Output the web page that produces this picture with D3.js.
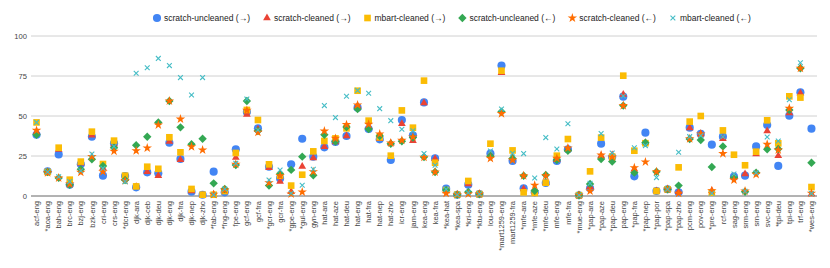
<!DOCTYPE html>
<html><head><meta charset="utf-8">
<script src="https://cdn.jsdelivr.net/npm/d3@7"></script>
<style>
html,body{margin:0;padding:0;background:#fff;}
svg{display:block;font-family:Arial,"Liberation Sans",sans-serif;}
</style></head>
<body>
<svg id="chart" width="830" height="268"></svg>
<script>
const categories = ["acf-eng","*aoa-eng","bah-eng","brc-eng","bzj-eng","bzk-eng","cri-eng","crs-eng","*dcr-eng","djk-ara",
"djk-ceb","djk-deu","djk-eng","djk-fra","djk-nep","djk-zho","*fab-eng","*fng-eng","fpe-eng","gcf-eng",
"gcf-fra","*gcr-eng","gcr-fra","*gpe-eng","*gul-eng","gyn-eng","hat-ara","hat-aze","hat-deu","hat-eng",
"hat-fra","hat-nep","hat-zho","icr-eng","jam-eng","kea-eng","kea-fra","*kea-hat","*kea-spa","*kri-eng",
"*ktu-eng","lou-eng","*mart1259-eng","mart1259-fra","*mfe-ara","*mfe-aze","*mfe-deu","mfe-eng","mfe-fra","*mue-eng",
"*pap-ara","*pap-aze","*pap-deu","pap-eng","*pap-fra","*pap-nep","*pap-por","*pap-spa","*pap-zho","pcm-eng",
"pov-eng","*pre-eng","rcf-eng","sag-eng","srm-eng","srn-eng","svc-eng","*tpi-deu","tpi-eng","trf-eng",
"*wes-eng"];

const scratchUncleanedFwd = [38.3,15.5,26,7,19.8,37,12.7,33,12.5,5.4,
14.8,14.2,33.3,23.1,2.7,0.8,15.2,2.3,29.2,52.5,
42.3,18.3,11,19.8,35.8,24.6,30.4,33.8,37.5,55.2,
41.9,35.4,22.5,47.5,37.9,58.5,23.5,4.6,0.8,7.1,
1.2,26.5,81.5,21.9,4.8,2.3,8.1,21.9,29.2,0.5,
4.8,32.7,24.4,62.1,12.3,39.6,3.1,4.2,2.3,42.7,
38.8,32.1,37.1,12.1,12.7,31,44.4,18.8,50.2,64.8,
42.1];
const scratchCleanedFwd = [40,15,29,7.5,20.4,38,17.5,32.3,11,5.8,
15.2,12.7,34,22.7,3.1,0.4,1,3.7,24,51,
41.7,17.7,9,2.7,18.5,23.8,30.8,33.8,37.5,56.3,
43.3,35.8,33,45.2,34.6,58.1,23.3,3.1,0.8,7.5,
1.2,26,77.1,23.8,4.4,2.8,8.3,22.7,29.6,0.5,
5.8,25.2,25.6,63.5,16.7,33.3,3.1,4.2,2.7,42.5,
38.8,3.3,35.8,12.1,13.8,26.3,40.6,25.2,51.9,64.2,
1.2];
const mbartCleanedFwd = [46,15,30.2,10.2,21.5,40.2,20,34.6,12.7,6,
18.3,17,36.7,27.3,4.4,0.8,0.8,3.1,26.9,53.8,
47.5,19.8,12.7,6.5,13.3,27.9,34.4,36,42.3,65.8,
47.1,36.7,25.2,53.5,42.7,72.1,20.8,3.7,0.8,9.4,
1.2,32.7,78.3,28.5,2.3,1.9,8.3,25.2,35.6,0.5,
15.4,36.5,24.6,75.2,28.3,33,3.1,4.2,17.9,46.5,
50,2.1,41,25.8,19.2,27.7,47.3,32.9,62.3,61.5,
5.6];
const scratchUncleanedBwd = [38.3,15,11.3,7,16.7,23,18.8,30.2,10,31.7,
37,46,59.4,42.9,32.3,35.8,7.9,4.4,19.4,59.4,
40.6,6.5,13.8,16.3,24.6,12.9,38.3,34,43.1,54.4,
41.9,37.5,32.7,34.2,36.5,24.4,15,3.7,0.8,2.5,
1.2,24.8,52.7,23.5,12.7,3.3,13.1,22.5,28.3,0.5,
7.5,23.1,21.5,56.5,14.6,33.3,15.2,4.2,6.5,35.6,
35,18.1,31,11.7,2.7,14.6,29.2,29.4,53.8,79.8,
20.8];
const scratchCleanedBwd = [41,14.5,11.3,7.5,14.8,24.6,15.2,28,9.6,28.3,
30,44.4,59.4,48.1,30.8,28.8,1,3.7,19.8,53.5,
39.8,8.3,12.7,1.3,2.5,15.2,40.6,36,44.6,56.9,
44.8,38.8,33.1,34.8,36.9,24.2,15,1.7,0.8,1.3,
1.2,23.5,51.5,22.5,12.7,6.7,12.7,23.5,30,0.5,
3.1,25.6,24.4,56.5,17.7,21.3,15.2,4.2,1.7,35.8,
38.8,3.3,26.5,10,3.1,13.5,32.3,28.8,54.8,79.8,
1.7];
const mbartCleanedBwd = [46,15,12,9,15.8,26.2,17.3,31,9,76.7,
80.2,86,81.5,74,63.1,74,0.8,4.4,20.4,60.6,
41.3,10,16.3,1.7,6.7,16.7,56.5,49,62.3,66,
64.2,54.6,47.1,41.7,40.8,26.5,19.2,4.2,0.8,2.1,
1.2,28.1,54.4,26.7,26.5,11.3,36.5,29.4,45.2,0.5,
7.9,39,26.9,62.5,30.2,31.5,11.5,4.2,27.3,37.1,
37.7,1.7,37,13.8,3,14.6,36.9,34.4,60.2,83.3,
1.5];

const seriesNames = ["scratch-uncleaned (\u2192)","scratch-cleaned (\u2192)","mbart-cleaned (\u2192)",
  "scratch-uncleaned (\u2190)","scratch-cleaned (\u2190)","mbart-cleaned (\u2190)"];
const yTicks = [0,25,50,75,100];

(function(){
const seriesValues = [scratchUncleanedFwd, scratchCleanedFwd, mbartCleanedFwd,
  scratchUncleanedBwd, scratchCleanedBwd, mbartCleanedBwd];
const colors = ["#4285F4","#EA4335","#FBBC04","#34A853","#FF6D01","#46BDC6"];

const svg = d3.select("#chart");
const mLeft = 31, mRight = 817, mTop = 36, mBottom = 196;

const x = d3.scalePoint().domain(categories).range([mLeft, mRight]).padding(0.5);
const y = d3.scaleLinear().domain([0,100]).range([mBottom, mTop]);

svg.append("g").selectAll("line").data(yTicks.filter(d=>d>0)).join("line")
  .attr("x1", mLeft).attr("x2", mRight)
  .attr("y1", d=>y(d)).attr("y2", d=>y(d))
  .attr("stroke", "#d0d0d0").attr("stroke-width", 1);

svg.append("g").selectAll("text").data(yTicks).join("text")
  .attr("x", 27).attr("y", d=>y(d)).attr("dy","0.35em")
  .attr("text-anchor","end").attr("font-size", 7.6).attr("fill","#444")
  .text(d=>d);

svg.append("line").attr("x1", mLeft).attr("x2", mRight)
  .attr("y1", y(0)).attr("y2", y(0)).attr("stroke","#666").attr("stroke-width",1);

svg.append("g").selectAll("text").data(categories).join("text")
  .attr("transform", d=>`translate(${x(d)},${mBottom+5}) rotate(-90)`)
  .attr("text-anchor","end").attr("dy","0.35em")
  .attr("font-size", 7.5).attr("fill","#444")
  .text(d=>d);

function diamondPath(s){ return `M0,${-s}L${s},0L0,${s}L${-s},0Z`; }
function xPath(s){ return `M${-s},${-s}L${s},${s}M${-s},${s}L${s},${-s}`; }
const symbolPaths = [
  d3.symbol(d3.symbolCircle, 52)(),
  d3.symbol(d3.symbolTriangle, 26)(),
  d3.symbol(d3.symbolSquare, 44)(),
  diamondPath(4.2),
  d3.symbol(d3.symbolStar, 28)(),
  xPath(2.4)
];

function drawSymbol(g, k){
  const p = g.append("path").attr("d", symbolPaths[k]);
  if (k === 5) p.attr("fill","none").attr("stroke", colors[k]).attr("stroke-width",1.1);
  else p.attr("fill", colors[k]);
  return p;
}

seriesValues.forEach((vals, k) => {
  const g = svg.append("g");
  vals.forEach((v, i) => {
    const pg = g.append("g").attr("transform", `translate(${x(categories[i])},${y(v)})`);
    drawSymbol(pg, k);
  });
});

const legend = svg.append("g");
let cx = 0;
seriesNames.forEach((name, k) => {
  const ig = legend.append("g");
  const sg = ig.append("g").attr("transform", `translate(${cx+3},0)`);
  drawSymbol(sg, k);
  const t = ig.append("text").attr("x", cx+10).attr("dy","0.35em")
    .attr("font-size", 8.5).attr("fill","#222").text(name);
  const w = t.node().getComputedTextLength();
  cx += 10 + w + 14;
});
legend.attr("transform", `translate(154,18)`);
})();
</script>
</body></html>
